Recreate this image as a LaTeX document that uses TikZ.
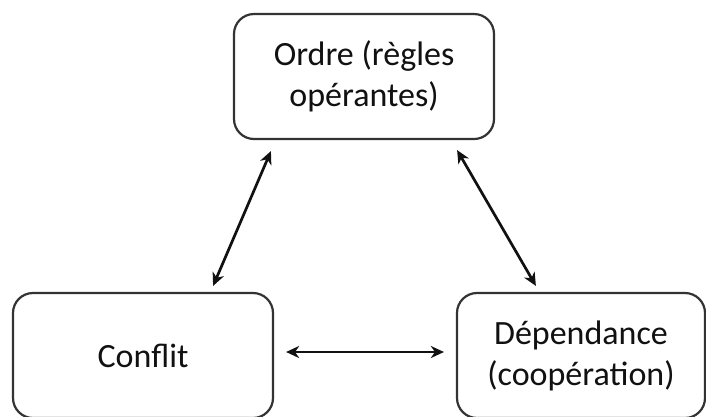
\documentclass[tikz,border=0pt]{standalone}
\usepackage{fontspec}
\setmainfont{Carlito}
\usetikzlibrary{arrows.meta}
\definecolor{boxgray}{HTML}{333333}
\definecolor{txt}{HTML}{111111}
\begin{document}
\begin{tikzpicture}[x=1pt,y=-1pt,
  box/.style={draw=boxgray, line width=2.2pt, rounded corners=20pt, align=center,
    font=\fontsize{34}{41}\selectfont, text=txt, inner sep=0pt, minimum height=125pt},
  arr/.style={draw=txt, line width=2.7pt, {Stealth[length=13pt,width=12pt,inset=4pt]}-{Stealth[length=13pt,width=12pt,inset=4pt]}}]
\useasboundingbox (0,0) rectangle (706,416);
\fill[white] (0,0) rectangle (706,416);
\node[box, minimum width=260pt] (ordre) at (364,76.5) {Ordre (règles\\opérantes)};
\node[box, minimum width=260pt] (conf) at (143,355.5) {Conflit};
\node[box, minimum width=248pt] (dep) at (581,355.5) {Dépendance\\(coopération)};
\draw[arr] ([xshift=38pt,yshift=-11pt]ordre.south west) -- ([xshift=-61pt,yshift=6pt]conf.north east);
\draw[arr] ([xshift=-38pt,yshift=-10pt]ordre.south east) -- ([xshift=80pt,yshift=6pt]dep.north west);
\draw[arr] ([xshift=12pt,yshift=3.5pt]conf.east) -- ([xshift=-12pt,yshift=3.5pt]dep.west);
\end{tikzpicture}
\end{document}
